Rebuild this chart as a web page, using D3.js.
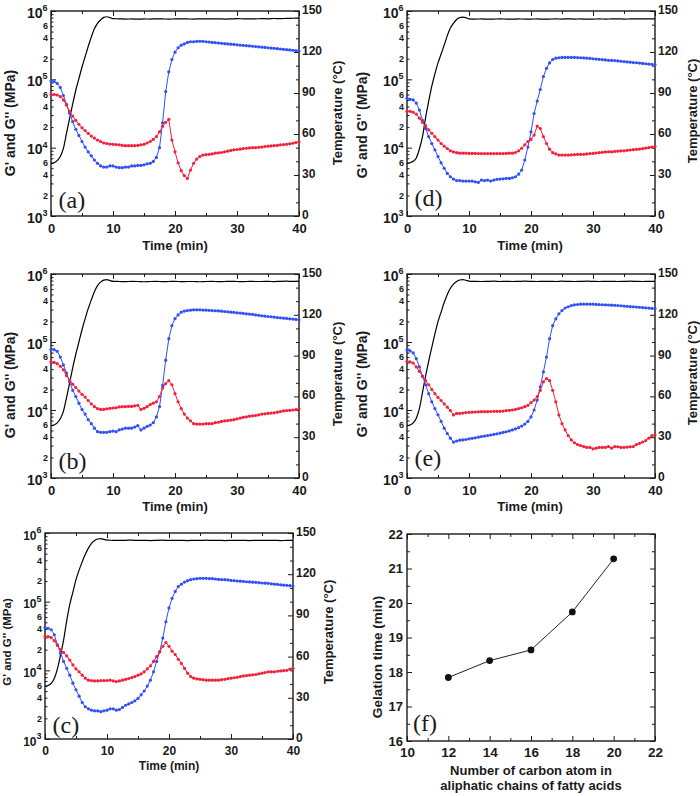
<!DOCTYPE html>
<html><head><meta charset="utf-8">
<script src="https://cdn.jsdelivr.net/npm/d3@7"></script>
<style>body{margin:0;background:#fff}svg{display:block}</style>
</head><body>
<svg id="chart" width="700" height="796"></svg>
<script>
// ---------- data ----------
const timeMin = d3.range(0, 40.001, 0.5);                 // sampling times (min)
const tempTime = d3.range(0, 10.001, 0.5).concat(d3.range(11, 40.001, 1));
const xTicks = [0, 10, 20, 30, 40];
const xMinorTicks = [5, 15, 25, 35];
const tempTicks = [0, 30, 60, 90, 120, 150];
const tempMinorTicks = [10, 20, 40, 50, 70, 80, 100, 110, 130, 140];
const logExponents = [3, 4, 5, 6];
const logMinorLabels = [2, 4, 6];

const gp_a = [9.5e4,9.3e4,8.7e4,7.6e4,5.8e4,4.3e4,3.2e4,2.4e4,1.86e4,1.51e4,
  1.23e4,1.02e4,8.7e3,7.6e3,6.6e3,5.9e3,5.4e3,5.2e3,5.2e3,5.4e3,
  5.4e3,5.2e3,5.1e3,5.1e3,5.2e3,5.2e3,5.4e3,5.4e3,5.5e3,5.5e3,
  5.6e3,5.8e3,5.9e3,6.3e3,7.2e3,1.0e4,2.3e4,6.6e4,1.29e5,1.95e5,
  2.5e5,2.9e5,3.16e5,3.3e5,3.47e5,3.55e5,3.55e5,3.6e5,3.6e5,3.6e5,
  3.55e5,3.52e5,3.47e5,3.44e5,3.4e5,3.37e5,3.33e5,3.3e5,3.27e5,3.24e5,
  3.2e5,3.17e5,3.14e5,3.11e5,3.08e5,3.05e5,3.02e5,2.99e5,2.96e5,2.93e5,
  2.9e5,2.87e5,2.84e5,2.81e5,2.78e5,2.75e5,2.72e5,2.69e5,2.66e5,2.63e5,
  2.6e5];
const gpp_a = [6.0e4,6.0e4,5.9e4,5.6e4,5.0e4,4.2e4,3.4e4,2.9e4,2.5e4,2.2e4,
  1.95e4,1.78e4,1.62e4,1.48e4,1.38e4,1.29e4,1.23e4,1.17e4,1.15e4,1.13e4,
  1.12e4,1.11e4,1.10e4,1.08e4,1.07e4,1.07e4,1.07e4,1.07e4,1.08e4,1.10e4,
  1.12e4,1.17e4,1.23e4,1.32e4,1.45e4,1.7e4,2.05e4,2.35e4,2.6e4,1.29e4,
  8.7e3,6.0e3,4.6e3,3.9e3,3.55e3,4.7e3,5.9e3,6.8e3,7.4e3,7.8e3,
  7.9e3,8.0e3,8.1e3,8.3e3,8.4e3,8.5e3,8.7e3,8.9e3,9.1e3,9.3e3,
  9.4e3,9.5e3,9.7e3,9.8e3,9.9e3,1.0e4,1.0e4,1.01e4,1.02e4,1.04e4,
  1.05e4,1.06e4,1.07e4,1.08e4,1.10e4,1.11e4,1.12e4,1.14e4,1.16e4,1.19e4,
  1.22e4];
const temp_a = [38.5,39,40.5,43.5,49.5,60.5,71.5,82,92,100.5,109,116.5,124,131,137,141,143.5,145.3,145.8,145.2,144.4,
  144.3,144.1,144.2,144.0,144.2,144.1,144.3,144.2,144.1,144.2,
  144.3,144.2,144.1,144.3,144.2,144.2,144.3,144.1,144.2,144.4,
  144.3,144.2,144.3,144.4,144.3,144.5,144.4,144.6,144.7,144.8];

const gp_b = [7.8e4,7.7e4,7.3e4,6.0e4,4.6e4,3.5e4,2.6e4,1.95e4,1.58e4,1.26e4,
  1.02e4,8.7e3,7.2e3,6.3e3,5.4e3,4.8e3,4.7e3,4.7e3,4.7e3,4.8e3,
  4.9e3,4.8e3,5.1e3,5.25e3,5.4e3,5.4e3,5.4e3,5.6e3,5.9e3,5.1e3,
  5.4e3,5.75e3,6.0e3,6.5e3,7.9e3,1.12e4,2.3e4,5.4e4,1.12e5,1.74e5,
  2.2e5,2.5e5,2.75e5,2.85e5,2.9e5,2.94e5,2.97e5,2.97e5,2.97e5,2.95e5,
  2.94e5,2.92e5,2.9e5,2.88e5,2.86e5,2.84e5,2.81e5,2.78e5,2.75e5,2.72e5,
  2.69e5,2.66e5,2.63e5,2.6e5,2.57e5,2.54e5,2.5e5,2.47e5,2.43e5,2.4e5,
  2.37e5,2.35e5,2.32e5,2.29e5,2.27e5,2.24e5,2.22e5,2.19e5,2.17e5,2.15e5,
  2.12e5];
const gpp_b = [5.1e4,5.0e4,4.8e4,4.4e4,3.9e4,3.2e4,2.75e4,2.4e4,2.14e4,1.9e4,
  1.7e4,1.55e4,1.38e4,1.23e4,1.12e4,1.05e4,1.02e4,1.02e4,1.04e4,1.06e4,
  1.07e4,1.08e4,1.11e4,1.12e4,1.12e4,1.13e4,1.13e4,1.15e4,1.17e4,1.02e4,
  1.06e4,1.12e4,1.2e4,1.26e4,1.32e4,1.58e4,2.1e4,2.45e4,2.7e4,2.35e4,
  1.74e4,1.32e4,1.05e4,8.7e3,7.6e3,6.9e3,6.3e3,6.2e3,6.2e3,6.2e3,
  6.3e3,6.3e3,6.3e3,6.5e3,6.6e3,6.8e3,6.9e3,7.0e3,7.1e3,7.2e3,
  7.4e3,7.6e3,7.8e3,7.9e3,8.1e3,8.2e3,8.3e3,8.5e3,8.7e3,8.8e3,
  8.9e3,9.0e3,9.1e3,9.3e3,9.5e3,9.7e3,9.8e3,9.9e3,1.0e4,1.01e4,
  1.04e4];
const temp_b = [38.5,39,40.5,43.5,49,59,70,81,91,100,109,117,124.5,131,137,141.5,144,145.5,145.9,145.2,144.6,
  144.5,144.4,144.6,144.5,144.3,144.5,144.6,144.4,144.5,144.6,
  144.4,144.5,144.5,144.3,144.5,144.6,144.4,144.5,144.6,144.5,
  144.4,144.6,144.5,144.5,144.6,144.4,144.6,144.7,144.6,144.8];

const gp_c = [4.2e4,4.1e4,3.9e4,3.3e4,2.35e4,1.78e4,1.35e4,1.07e4,8.5e3,6.5e3,
  5.2e3,4.2e3,3.4e3,2.95e3,2.75e3,2.63e3,2.57e3,2.57e3,2.5e3,2.57e3,
  2.63e3,2.75e3,2.75e3,2.63e3,2.69e3,2.88e3,3.1e3,3.24e3,3.4e3,3.6e3,
  3.9e3,4.4e3,5.0e3,5.9e3,7.2e3,9.5e3,1.35e4,1.86e4,2.95e4,5.1e4,
  8.1e4,1.12e5,1.41e5,1.66e5,1.8e5,1.93e5,2.02e5,2.09e5,2.14e5,2.16e5,
  2.19e5,2.19e5,2.19e5,2.17e5,2.16e5,2.14e5,2.11e5,2.1e5,2.09e5,2.07e5,
  2.04e5,2.02e5,2.0e5,1.99e5,1.97e5,1.95e5,1.94e5,1.92e5,1.91e5,1.89e5,
  1.87e5,1.86e5,1.85e5,1.82e5,1.8e5,1.78e5,1.76e5,1.74e5,1.73e5,1.71e5,
  1.69e5];
const gpp_c = [3.1e4,3.1e4,3.0e4,2.7e4,2.3e4,2.0e4,1.82e4,1.62e4,1.41e4,1.2e4,
  1.05e4,9.5e3,8.5e3,7.7e3,7.2e3,7.1e3,7.0e3,7.0e3,7.1e3,7.1e3,
  7.1e3,7.2e3,7.0e3,6.85e3,7.0e3,7.2e3,7.4e3,7.6e3,7.85e3,8.1e3,
  8.5e3,8.9e3,9.5e3,1.05e4,1.16e4,1.35e4,1.58e4,1.86e4,2.24e4,2.54e4,
  2.24e4,1.9e4,1.7e4,1.45e4,1.26e4,1.07e4,9.1e3,8.1e3,7.7e3,7.5e3,
  7.4e3,7.3e3,7.2e3,7.2e3,7.2e3,7.2e3,7.2e3,7.3e3,7.4e3,7.55e3,
  7.7e3,7.8e3,7.9e3,8.1e3,8.3e3,8.4e3,8.5e3,8.6e3,8.7e3,8.9e3,
  9.1e3,9.3e3,9.5e3,9.5e3,9.5e3,9.7e3,9.8e3,9.9e3,1.0e4,1.04e4,
  1.07e4];
const temp_c = [38.2,39,40.5,44,51,61,72,86,98,107,116,123,129,134.5,139,142.5,144.5,145.6,145.9,145.3,144.8,
  144.7,144.6,144.7,144.8,144.6,144.7,144.5,144.7,144.8,144.6,
  144.7,144.6,144.5,144.7,144.6,144.8,144.6,144.7,144.5,144.6,
  144.7,144.6,144.5,144.7,144.6,144.6,144.7,144.5,144.6,144.6];

const gp_d = [5.3e4,5.1e4,5.0e4,4.5e4,3.55e4,2.5e4,1.9e4,1.45e4,1.15e4,9.3e3,
  7.4e3,6.0e3,5.0e3,4.2e3,3.75e3,3.47e3,3.3e3,3.3e3,3.24e3,3.24e3,
  3.24e3,3.24e3,3.16e3,3.1e3,3.36e3,3.3e3,3.36e3,3.24e3,3.36e3,3.44e3,
  3.47e3,3.5e3,3.55e3,3.55e3,3.63e3,3.75e3,4.1e3,4.7e3,6.6e3,1.02e4,
  1.7e4,3.16e4,4.8e4,7.1e4,1.1e5,1.45e5,1.74e5,1.95e5,2.04e5,2.07e5,
  2.09e5,2.09e5,2.09e5,2.09e5,2.09e5,2.08e5,2.07e5,2.06e5,2.04e5,2.02e5,
  2.0e5,1.98e5,1.96e5,1.94e5,1.92e5,1.9e5,1.89e5,1.88e5,1.86e5,1.84e5,
  1.82e5,1.8e5,1.78e5,1.76e5,1.75e5,1.73e5,1.71e5,1.69e5,1.67e5,1.66e5,
  1.64e5];
const gpp_d = [3.4e4,3.4e4,3.3e4,3.1e4,2.7e4,2.35e4,2.1e4,1.82e4,1.62e4,1.45e4,
  1.29e4,1.15e4,1.05e4,9.7e3,9.0e3,8.65e3,8.45e3,8.3e3,8.3e3,8.3e3,
  8.25e3,8.25e3,8.25e3,8.2e3,8.2e3,8.2e3,8.2e3,8.2e3,8.2e3,8.2e3,
  8.2e3,8.2e3,8.25e3,8.3e3,8.3e3,8.5e3,9.0e3,9.8e3,1.1e4,1.23e4,
  1.32e4,1.53e4,2.07e4,1.9e4,1.45e4,1.15e4,9.5e3,8.45e3,8.1e3,7.8e3,
  7.8e3,7.8e3,7.8e3,7.85e3,7.9e3,7.95e3,7.95e3,8.0e3,8.1e3,8.2e3,
  8.25e3,8.35e3,8.45e3,8.55e3,8.65e3,8.7e3,8.7e3,8.8e3,8.9e3,9.0e3,
  9.0e3,9.15e3,9.25e3,9.35e3,9.45e3,9.55e3,9.65e3,9.85e3,1.0e4,1.02e4,
  1.04e4];
const temp_d = [38.5,39,40,42.5,49,58,72,84,95,104,112,118.5,125,132,137.5,141,143.8,145.2,145.5,145.1,144.3,
  144.1,144.2,144.0,144.1,144.2,144.1,144.0,144.2,144.1,144.1,
  144.2,144.0,144.1,144.2,144.1,144.3,144.1,144.2,144.0,144.1,
  144.2,144.1,144.2,144.3,144.1,144.2,144.3,144.2,144.3,144.2];

const gp_e = [7.6e4,7.4e4,6.9e4,5.7e4,4.3e4,3.1e4,2.35e4,1.74e4,1.32e4,1.05e4,
  8.5e3,6.8e3,5.4e3,4.5e3,3.85e3,3.37e3,3.5e3,3.6e3,3.63e3,3.68e3,
  3.77e3,3.83e3,3.9e3,3.98e3,4.07e3,4.14e3,4.2e3,4.29e3,4.37e3,4.47e3,
  4.57e3,4.68e3,4.79e3,4.93e3,5.1e3,5.27e3,5.5e3,5.8e3,6.2e3,6.8e3,
  7.9e3,1.0e4,1.4e4,2.19e4,3.63e4,6.0e4,1.12e5,1.74e5,2.19e5,2.6e5,
  2.9e5,3.16e5,3.3e5,3.44e5,3.52e5,3.56e5,3.6e5,3.6e5,3.6e5,3.6e5,
  3.6e5,3.57e5,3.55e5,3.53e5,3.52e5,3.5e5,3.48e5,3.46e5,3.44e5,3.41e5,
  3.38e5,3.35e5,3.31e5,3.29e5,3.27e5,3.24e5,3.21e5,3.18e5,3.15e5,3.12e5,
  3.09e5];
const gpp_e = [5.2e4,5.1e4,4.9e4,4.3e4,3.7e4,3.16e4,2.7e4,2.35e4,2.0e4,1.74e4,
  1.53e4,1.38e4,1.23e4,1.1e4,9.8e3,8.45e3,8.9e3,8.9e3,9.0e3,9.15e3,
  9.25e3,9.3e3,9.35e3,9.4e3,9.45e3,9.45e3,9.45e3,9.5e3,9.55e3,9.55e3,
  9.55e3,9.65e3,9.8e3,9.9e3,1.0e4,1.02e4,1.05e4,1.08e4,1.12e4,1.17e4,
  1.28e4,1.4e4,1.57e4,1.95e4,2.6e4,2.9e4,2.7e4,1.95e4,1.32e4,8.45e3,
  6.3e3,5.1e3,4.2e3,3.63e3,3.3e3,3.1e3,3.0e3,2.9e3,2.82e3,2.82e3,
  2.69e3,2.75e3,2.82e3,2.82e3,2.82e3,2.9e3,2.75e3,2.9e3,2.88e3,2.82e3,
  2.82e3,2.85e3,2.88e3,2.9e3,3.1e3,3.24e3,3.37e3,3.55e3,3.85e3,4.2e3,
  4.3e3];
const temp_e = [38.5,39,40.5,44,51,63,75,86,96,106,115,122,129,135,139.5,142.5,144.5,145.6,145.9,145.4,144.8,
  144.6,144.5,144.6,144.7,144.5,144.6,144.5,144.6,144.7,144.6,
  144.5,144.6,144.6,144.5,144.7,144.6,144.5,144.6,144.7,144.6,
  144.5,144.6,144.6,144.5,144.6,144.7,144.6,144.5,144.6,144.6];

// panel (f)
const carbonAtoms = [12, 14, 16, 18, 20];
const gelationTime = [17.84, 18.33, 18.64, 19.74, 21.28];
const fXTicks = [10, 12, 14, 16, 18, 20, 22];
const fXMinor = [11, 13, 15, 17, 19, 21];
const fYTicks = [16, 17, 18, 19, 20, 21, 22];
const fYMinor = [16.5, 17.5, 18.5, 19.5, 20.5, 21.5];

// ---------- drawing ----------
const svg = d3.select('#chart');
const SANS = "'Liberation Sans', Arial, Helvetica, sans-serif";
const SERIF = "'Liberation Serif', 'Times New Roman', serif";
const BLUE = '#3050f8', RED = '#f5203a', INK = '#1a1a1a';

function styleAxis(sel, fs) {
  sel.select('.domain').remove();
  sel.attr('font-family', null).attr('font-size', null);
  sel.selectAll('line').attr('stroke', INK).attr('stroke-width', 1);
  sel.selectAll('text').attr('font-family', SANS).attr('font-weight', 'bold')
     .attr('font-size', fs).attr('fill', INK);
}

function rheoPanel(p, gp, gpp, temp) {
  const g = svg.append('g');
  const x = d3.scaleLinear().domain([0, 40]).range([p.x0, p.x1]);
  const y = d3.scaleLog().domain([1e3, 1e6]).range([p.y1, p.y0]);
  const yT = d3.scaleLinear().domain([0, 150]).range([p.y1, p.y0]);

  // bottom axis
  g.append('g').attr('transform', `translate(0,${p.y1})`)
    .call(d3.axisBottom(x).tickValues(xMinorTicks).tickSize(-3).tickFormat('')).call(styleAxis, p.fsX);
  g.append('g').attr('transform', `translate(0,${p.y1})`)
    .call(d3.axisBottom(x).tickValues(xTicks).tickSize(-5).tickPadding(p.xPad).tickFormat(d3.format('d')))
    .call(styleAxis, p.fsX);
  // top axis
  g.append('g').attr('transform', `translate(0,${p.y0})`)
    .call(d3.axisTop(x).tickValues(xMinorTicks).tickSize(-3).tickFormat('')).call(styleAxis, 10);
  g.append('g').attr('transform', `translate(0,${p.y0})`)
    .call(d3.axisTop(x).tickValues(xTicks).tickSize(-5).tickFormat('')).call(styleAxis, 10);
  // left log axis
  const logAll = [];
  logExponents.slice(0, 3).forEach(e => { for (let m = 2; m <= 9; m++) logAll.push(m * Math.pow(10, e)); });
  const logMajor = logExponents.map(e => Math.pow(10, e));
  g.append('g').attr('transform', `translate(${p.x0},0)`)
    .call(d3.axisLeft(y).tickValues(logAll).tickSize(-2.5).tickFormat('')).call(styleAxis, 10);
  g.append('g').attr('transform', `translate(${p.x0},0)`)
    .call(d3.axisLeft(y).tickValues(logMajor).tickSize(-5).tickFormat('')).call(styleAxis, 10);
  logExponents.forEach(e => {
    const t = g.append('text').attr('x', p.x0 - 3.5).attr('y', y(Math.pow(10, e)) + 6.5)
      .attr('text-anchor', 'end').attr('font-family', SANS).attr('font-weight', 'bold')
      .attr('font-size', p.fsMaj).attr('fill', INK);
    t.append('tspan').text('10');
    t.append('tspan').attr('dy', -6.5).attr('font-size', 9).text(e);
  });
  logExponents.slice(0, 3).forEach(e => {
    logMinorLabels.forEach(m => {
      g.append('text').attr('x', p.x0 - 3).attr('y', y(m * Math.pow(10, e)) + 3.2)
        .attr('text-anchor', 'end').attr('font-family', SANS).attr('font-weight', 'bold')
        .attr('font-size', 9).attr('fill', INK).text(m);
    });
  });
  // right temperature axis
  g.append('g').attr('transform', `translate(${p.x1},0)`)
    .call(d3.axisRight(yT).tickValues(tempMinorTicks).tickSize(-3).tickFormat('')).call(styleAxis, 12);
  g.append('g').attr('transform', `translate(${p.x1},0)`)
    .call(d3.axisRight(yT).tickValues(tempTicks).tickSize(-5).tickPadding(3)).call(styleAxis, 12)
    .selectAll('text').attr('dy', '0.2em');

  // frame
  g.append('rect').attr('x', p.x0).attr('y', p.y0).attr('width', p.x1 - p.x0).attr('height', p.y1 - p.y0)
    .attr('fill', 'none').attr('stroke', INK).attr('stroke-width', 1.4);

  // temperature
  const tl = d3.line().x((d, i) => x(tempTime[i])).y(d => yT(d)).curve(d3.curveMonotoneX);
  g.append('path').datum(temp).attr('d', tl).attr('fill', 'none').attr('stroke', '#000').attr('stroke-width', 1.2);

  // G' and G''
  [[gp, BLUE], [gpp, RED]].forEach(([arr, col]) => {
    const ln = d3.line().x((d, i) => x(timeMin[i])).y(d => y(d));
    g.append('path').datum(arr).attr('d', ln).attr('fill', 'none').attr('stroke', col).attr('stroke-width', 1);
    g.append('g').selectAll('circle').data(arr).join('circle')
      .attr('cx', (d, i) => x(timeMin[i])).attr('cy', d => y(d)).attr('r', 1.6).attr('fill', col);
  });

  // titles
  g.append('text').attr('transform', `translate(${p.lx},${p.ly}) rotate(-90)`)
    .attr('text-anchor', 'middle').attr('dominant-baseline', 'central')
    .attr('font-family', SANS).attr('font-weight', 'bold').attr('font-size', p.fsL).attr('fill', INK)
    .text("G' and G'' (MPa)");
  g.append('text').attr('transform', `translate(${p.rx},${p.ry}) rotate(-90)`)
    .attr('text-anchor', 'middle').attr('dominant-baseline', 'central')
    .attr('font-family', SANS).attr('font-weight', 'bold').attr('font-size', 13).attr('fill', INK)
    .text('Temperature (°C)');
  g.append('text').attr('x', p.tx).attr('y', p.ty).attr('text-anchor', 'middle')
    .attr('font-family', SANS).attr('font-weight', 'bold').attr('font-size', p.fsT).attr('fill', INK)
    .text('Time (min)');
  g.append('text').attr('x', p.x0 + 7.5).attr('y', p.letY)
    .attr('font-family', SERIF).attr('font-size', 24).attr('fill', INK).text(`(${p.id})`);
}

const panels = [
  {id:'a', x0:51, x1:299, y0:11, y1:216, lx:10, ly:123, rx:337, ry:113, tx:175, ty:250, letY:208, fsX:13, fsMaj:14, fsL:14, fsT:13, xPad:8},
  {id:'b', x0:51, x1:299, y0:274, y1:478, lx:10, ly:385, rx:337, ry:374, tx:175, ty:511, letY:469, fsX:13, fsMaj:14, fsL:14, fsT:13, xPad:8},
  {id:'c', x0:45, x1:293, y0:533, y1:739, lx:7, ly:642, rx:328, ry:632, tx:169, ty:770, letY:733, fsX:12, fsMaj:12, fsL:11.5, fsT:12, xPad:7},
  {id:'d', x0:407, x1:655, y0:11, y1:216, lx:362, ly:125, rx:692, ry:111, tx:530, ty:250, letY:206, fsX:13, fsMaj:14, fsL:14, fsT:13, xPad:8},
  {id:'e', x0:407, x1:655, y0:274, y1:478, lx:362, ly:384, rx:692, ry:373, tx:530, ty:511, letY:466, fsX:13, fsMaj:14, fsL:14, fsT:13, xPad:8}
];
rheoPanel(panels[0], gp_a, gpp_a, temp_a);
rheoPanel(panels[1], gp_b, gpp_b, temp_b);
rheoPanel(panels[2], gp_c, gpp_c, temp_c);
rheoPanel(panels[3], gp_d, gpp_d, temp_d);
rheoPanel(panels[4], gp_e, gpp_e, temp_e);

// ---------- panel (f) ----------
(function () {
  const P = {x0:407, x1:655, y0:534, y1:741};
  const g = svg.append('g');
  const x = d3.scaleLinear().domain([10, 22]).range([P.x0, P.x1]);
  const y = d3.scaleLinear().domain([16, 22]).range([P.y1, P.y0]);
  const fmt = d3.format('d');
  g.append('g').attr('transform', `translate(0,${P.y1})`)
    .call(d3.axisBottom(x).tickValues(fXMinor).tickSize(-3).tickFormat('')).call(styleAxis, 13);
  g.append('g').attr('transform', `translate(0,${P.y1})`)
    .call(d3.axisBottom(x).tickValues(fXTicks).tickSize(-5).tickPadding(6).tickFormat(fmt)).call(styleAxis, 13.5);
  g.append('g').attr('transform', `translate(0,${P.y0})`)
    .call(d3.axisTop(x).tickValues(fXMinor).tickSize(-3).tickFormat('')).call(styleAxis, 13);
  g.append('g').attr('transform', `translate(0,${P.y0})`)
    .call(d3.axisTop(x).tickValues(fXTicks).tickSize(-5).tickFormat('')).call(styleAxis, 13);
  g.append('g').attr('transform', `translate(${P.x0},0)`)
    .call(d3.axisLeft(y).tickValues(fYMinor).tickSize(-3).tickFormat('')).call(styleAxis, 13);
  g.append('g').attr('transform', `translate(${P.x0},0)`)
    .call(d3.axisLeft(y).tickValues(fYTicks).tickSize(-5).tickPadding(4).tickFormat(fmt)).call(styleAxis, 13);
  g.append('g').attr('transform', `translate(${P.x1},0)`)
    .call(d3.axisRight(y).tickValues(fYMinor).tickSize(-3).tickFormat('')).call(styleAxis, 13);
  g.append('g').attr('transform', `translate(${P.x1},0)`)
    .call(d3.axisRight(y).tickValues(fYTicks).tickSize(-5).tickFormat('')).call(styleAxis, 13);
  g.append('rect').attr('x', P.x0).attr('y', P.y0).attr('width', P.x1 - P.x0).attr('height', P.y1 - P.y0)
    .attr('fill', 'none').attr('stroke', INK).attr('stroke-width', 1.4);
  const ln = d3.line().x((d, i) => x(carbonAtoms[i])).y(d => y(d));
  g.append('path').datum(gelationTime).attr('d', ln).attr('fill', 'none').attr('stroke', '#222').attr('stroke-width', 1);
  g.selectAll('circle.pt').data(gelationTime).join('circle').attr('class', 'pt')
    .attr('cx', (d, i) => x(carbonAtoms[i])).attr('cy', d => y(d)).attr('r', 3.4).attr('fill', '#111');
  g.append('text').attr('transform', `translate(377.5,657) rotate(-90)`)
    .attr('text-anchor', 'middle').attr('dominant-baseline', 'central')
    .attr('font-family', SANS).attr('font-weight', 'bold').attr('font-size', 13.5).attr('fill', INK)
    .text('Gelation time (min)');
  g.append('text').attr('x', 531).attr('y', 775).attr('text-anchor', 'middle')
    .attr('font-family', SANS).attr('font-weight', 'bold').attr('font-size', 13).attr('fill', INK)
    .text('Number of carbon atom in');
  g.append('text').attr('x', 531).attr('y', 790).attr('text-anchor', 'middle')
    .attr('font-family', SANS).attr('font-weight', 'bold').attr('font-size', 13).attr('fill', INK)
    .text('aliphatic chains of fatty acids');
  g.append('text').attr('x', 413).attr('y', 731)
    .attr('font-family', SERIF).attr('font-size', 24).attr('fill', INK).text('(f)');
})();
</script>
</body></html>
